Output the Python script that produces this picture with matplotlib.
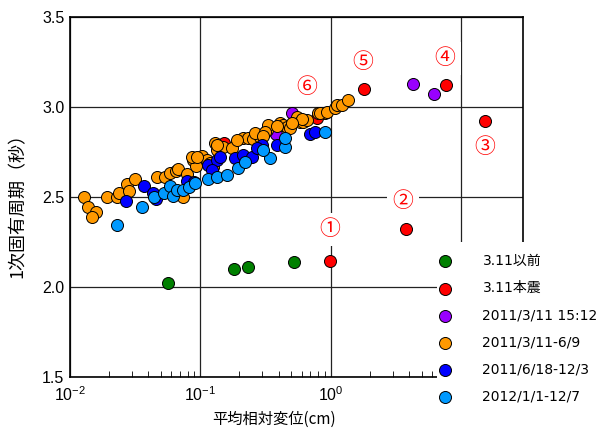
import matplotlib
matplotlib.use("Agg")
import matplotlib.pyplot as plt
from matplotlib.patches import Rectangle
from matplotlib.ticker import LogLocator, FixedLocator, FormatStrFormatter

plt.rcParams["font.family"] = ["Liberation Sans", "Noto Sans CJK JP", "DejaVu Sans"]
plt.rcParams["mathtext.default"] = "regular"
JP = ["Noto Sans CJK JP", "DejaVu Sans"]
LEG = ["DejaVu Sans", "Noto Sans CJK JP"]

# ── data (x: mean relative displacement cm, y: 1st natural period s) ─────────
pre_x = [0.0565, 0.181, 0.232, 0.524]
pre_y = [2.02, 2.10, 2.11, 2.14]

main_x = [0.99, 3.79, 15.3, 7.69, 1.80, 0.79, 0.152]
main_y = [2.145, 2.32, 2.92, 3.12, 3.10, 2.94, 2.80]

after_x = [4.29, 6.22, 0.505, 0.381]
after_y = [3.13, 3.07, 2.965, 2.85]

early_x = [0.0128, 0.0137, 0.0158, 0.0148, 0.0192, 0.0229, 0.0238, 0.0274,
           0.0284, 0.0316, 0.0465, 0.0536, 0.0585, 0.0651, 0.0674, 0.0791,
           0.0736, 0.0879, 0.0927, 0.0863, 0.103, 0.1125, 0.0944, 0.119,
           0.130, 0.134, 0.149, 0.175, 0.213, 0.232, 0.254, 0.287, 0.325,
           0.331, 0.263, 0.314, 0.409, 0.431, 0.463, 0.488, 0.552, 0.582,
           0.614, 0.659, 0.603, 0.80, 0.906, 0.83, 0.938, 1.08, 1.12, 1.22,
           1.36, 0.388, 0.505, 0.303, 0.134, 0.191, 0.125]
early_y = [2.50, 2.445, 2.415, 2.39, 2.50, 2.50, 2.52, 2.57,
           2.535, 2.60, 2.61, 2.61, 2.635, 2.645, 2.655, 2.63,
           2.50, 2.705, 2.67, 2.72, 2.73, 2.705, 2.72, 2.69,
           2.80, 2.76, 2.78, 2.77, 2.83, 2.83, 2.82, 2.835, 2.87,
           2.90, 2.855, 2.86, 2.91, 2.90, 2.89, 2.885, 2.945, 2.915,
           2.915, 2.93, 2.935, 2.965, 2.965, 2.965, 2.97, 2.995, 3.01, 3.01,
           3.04, 2.895, 2.91, 2.84, 2.79, 2.817, 2.667]

late11_x = [0.0269, 0.037, 0.0434, 0.0457, 0.0791, 0.0895, 0.1146, 0.134,
            0.1416, 0.185, 0.213, 0.249, 0.298, 0.388, 0.695, 0.759, 0.123,
            0.272]
late11_y = [2.478, 2.56, 2.52, 2.49, 2.59, 2.583, 2.678, 2.706,
            2.72, 2.717, 2.733, 2.722, 2.789, 2.789, 2.85, 2.861, 2.65,
            2.772]

y2012_x = [0.0229, 0.0357, 0.0441, 0.0527, 0.0585, 0.0617, 0.0663, 0.0736,
           0.0819, 0.0911, 0.1146, 0.134, 0.160, 0.195, 0.220, 0.343, 0.447,
           0.447, 0.906, 0.303]
y2012_y = [2.344, 2.444, 2.50, 2.522, 2.561, 2.506, 2.539, 2.539,
           2.556, 2.578, 2.60, 2.611, 2.622, 2.661, 2.694, 2.717, 2.778,
           2.828, 2.861, 2.761]

labels = ["3.11以前", "3.11本震", "2011/3/11 15:12", "2011/3/11-6/9",
          "2011/6/18-12/3", "2012/1/1-12/7"]
colors = ["#008000", "#ff0000", "#9900ff", "#ff9900", "#0000ff", "#0099ff"]

marks = ["①", "②", "③", "④", "⑤", "⑥"]
mark_x = [0.99, 3.6, 15.3, 7.5, 1.77, 0.66]
mark_y = [2.32, 2.48, 2.78, 3.27, 3.25, 3.11]

# ── figure ───────────────────────────────────────────────────────────────────
fig = plt.figure(figsize=(6.06, 4.30), dpi=100)
ax = fig.add_axes([70 / 606, 1 - 377 / 430, 453 / 606, 360 / 430])

series = [(pre_x, pre_y), (main_x, main_y), (after_x, after_y),
          (early_x, early_y), (late11_x, late11_y), (y2012_x, y2012_y)]
handles = []
for (xs, ys), lab, col in zip(series, labels, colors):
    h = ax.scatter(xs, ys, s=75, c=col, edgecolors="black", linewidths=0.7,
                   zorder=3, label=lab)
    handles.append(h)

ax.set_xscale("log")
ax.set_xlim(0.01, 30)
ax.set_ylim(1.5, 3.5)
ax.xaxis.set_major_locator(LogLocator(base=10, numticks=10))
ax.xaxis.set_minor_locator(LogLocator(base=10, subs=range(2, 10), numticks=20))
ax.yaxis.set_major_locator(FixedLocator([1.5, 2.0, 2.5, 3.0, 3.5]))
ax.yaxis.set_major_formatter(FormatStrFormatter("%.1f"))
ax.tick_params(axis="both", which="both", direction="in", labelsize=11.5)
ax.tick_params(axis="x", which="minor", length=4)
ax.tick_params(axis="x", which="major", length=0, pad=6)
ax.tick_params(axis="y", which="major", length=0, pad=4)
ax.grid(True, which="major", color="#222222", lw=0.9)
ax.set_axisbelow(True)
for sp in ax.spines.values():
    sp.set_linewidth(1.2)

ax.set_xlabel("平均相対変位(cm)", fontsize=11, family=JP)
ax.xaxis.set_label_coords((274 - 70) / 453, -0.095)
ax.set_ylabel("1次固有周期（秒）", fontsize=13, family=JP)
ax.yaxis.set_label_coords(-0.095, 0.49)

for t, mx, my in zip(marks, mark_x, mark_y):
    ax.text(mx, my, t, color="red", fontsize=15, ha="center", va="center",
            family=JP, zorder=4,
            bbox=dict(fc="white", ec="none", pad=4))

# white panel hiding the lower-right corner of the axes, legend on top
fig.add_artist(Rectangle((437 / 606, 0), 169 / 606, 1 - 242 / 430,
                         transform=fig.transFigure, fc="white", ec="none",
                         zorder=4))
leg = fig.legend(handles=handles, loc="upper left",
                 bbox_to_anchor=(438 / 606, 1 - 254 / 430),
                 prop={"family": LEG, "size": 10},
                 frameon=False, borderaxespad=0, borderpad=0,
                 handlelength=1.0, handletextpad=2.2, labelspacing=0.95)
leg.set_zorder(6)

fig.savefig("out.png", dpi=100, facecolor="white")
